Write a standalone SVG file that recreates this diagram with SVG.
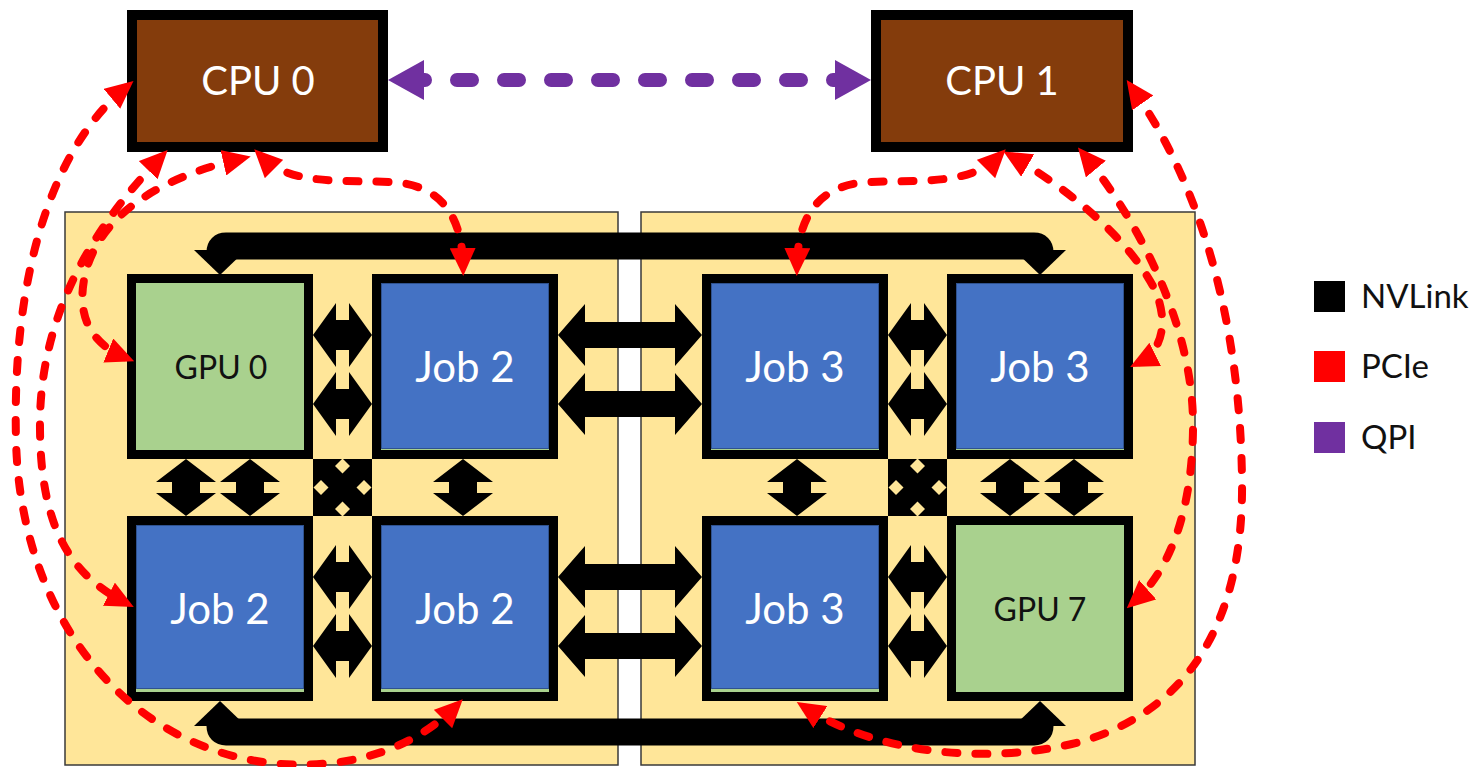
<svg xmlns="http://www.w3.org/2000/svg" width="1482" height="767" viewBox="0 0 1482 767">
<style>
.board{fill:#FFE699;stroke:#3a3a3a;stroke-width:1.5}
.frame{fill:#000}
.green{fill:#A9D18E}
.blue{fill:#4472C4;stroke:#2F528F;stroke-width:1}
.cpu{fill:#843C0C;stroke:#000;stroke-width:10}
.nv{fill:#000}
.bus{fill:none;stroke:#000;stroke-width:27}
.yel{fill:#FFE699}
.lbl{font-family:Lato,"Liberation Sans",sans-serif;text-anchor:middle}
.job{fill:#fff;font-size:42px}
.gpu{fill:#111;font-size:32px}
.cputxt{fill:#fff;font-size:40px}
.pcie{fill:none;stroke:#FF0000;stroke-width:8;stroke-dasharray:12 18;stroke-linecap:round;marker-start:url(#ra);marker-end:url(#ra)}
.qpi{fill:none;stroke:#7030A0;stroke-width:14;stroke-dasharray:15 32;stroke-linecap:round;marker-start:url(#pa);marker-end:url(#pa)}
.leg{font-family:Lato,"Liberation Sans",sans-serif;font-size:33px;fill:#111}
</style>
<defs>
<marker id="ra" markerUnits="userSpaceOnUse" viewBox="0 0 28 26" markerWidth="28" markerHeight="26" refX="17" refY="13" orient="auto-start-reverse"><path d="M0,0 L28,13 L0,26 z" fill="#FF0000"/></marker>
<marker id="pa" markerUnits="userSpaceOnUse" viewBox="0 0 36 40" markerWidth="36" markerHeight="40" refX="14" refY="20" orient="auto-start-reverse"><path d="M0,0 L36,20 L0,40 z" fill="#7030A0"/></marker>
<polygon id="sh" points="-29.5,0 -6.5,-32 -6.5,-15 6.5,-15 6.5,-32 29.5,0 6.5,32 6.5,15 -6.5,15 -6.5,32"/>
<polygon id="lh" points="-72,0 -45,-31 -45,-13 45,-13 45,-31 72,0 45,31 45,13 -45,13 -45,31"/>
<polygon id="sv" points="0,-28.5 30,-5.5 14,-5.5 14,5.5 30,5.5 0,28.5 -30,5.5 -14,5.5 -14,-5.5 -30,-5.5"/>
<polygon id="dia" points="0,-7.5 7.5,0 0,7.5 -7.5,0"/>
</defs>
<rect width="1482" height="767" fill="#fff"/>
<g id="board-left"><rect class="board" x="65" y="212" width="553" height="553"/></g>
<g id="board-right"><rect class="board" x="641" y="212" width="554" height="553"/></g>

<g id="nvlink-buses">
<path class="bus" d="M220 258 V252 Q220 246 226 246 H1034 Q1040 246 1040 252 V258"/>
<polygon class="nv" points="194,250 246,250 220,275"/>
<polygon class="nv" points="1014,250 1066,250 1040,275"/>
<path class="bus" d="M220 722 V726 Q220 732 226 732 H1034 Q1040 732 1040 726 V722"/>
<polygon class="nv" points="194,726 246,726 220,701"/>
<polygon class="nv" points="1014,726 1066,726 1040,701"/>
</g>

<g id="gpu0"><rect class="frame" x="127" y="274" width="186" height="185"/><rect class="green" x="136" y="283" width="168" height="167"/><text class="lbl gpu" x="221" y="379">GPU 0</text></g>
<g id="job2-top"><rect class="frame" x="372" y="274" width="186" height="185"/><rect class="green" x="381" y="283" width="168" height="167"/><rect class="blue" x="381.5" y="283.5" width="167" height="165"/><text class="lbl job" x="465" y="382">Job 2</text></g>
<g id="job3-top-left"><rect class="frame" x="702" y="274" width="186" height="185"/><rect class="green" x="711" y="283" width="168" height="167"/><rect class="blue" x="711.5" y="283.5" width="167" height="165"/><text class="lbl job" x="795" y="382">Job 3</text></g>
<g id="job3-top-right"><rect class="frame" x="947" y="274" width="186" height="185"/><rect class="green" x="956" y="283" width="168" height="167"/><rect class="blue" x="956.5" y="283.5" width="167" height="165"/><text class="lbl job" x="1040" y="382">Job 3</text></g>
<g id="job2-bottom-left"><rect class="frame" x="127" y="516" width="186" height="185"/><rect class="green" x="136" y="525" width="168" height="167"/><rect class="blue" x="136.5" y="525.5" width="167" height="163"/><text class="lbl job" x="220" y="624">Job 2</text></g>
<g id="job2-bottom"><rect class="frame" x="372" y="516" width="186" height="185"/><rect class="green" x="381" y="525" width="168" height="167"/><rect class="blue" x="381.5" y="525.5" width="167" height="163"/><text class="lbl job" x="465" y="624">Job 2</text></g>
<g id="job3-bottom"><rect class="frame" x="702" y="516" width="186" height="185"/><rect class="green" x="711" y="525" width="168" height="167"/><rect class="blue" x="711.5" y="525.5" width="167" height="163"/><text class="lbl job" x="795" y="624">Job 3</text></g>
<g id="gpu7"><rect class="frame" x="947" y="516" width="186" height="185"/><rect class="green" x="956" y="525" width="168" height="167"/><text class="lbl gpu" x="1040" y="621">GPU 7</text></g>

<g id="nvlink-links" class="nv">
<use href="#sh" x="342.5" y="335"/><use href="#sh" x="342.5" y="404"/>
<use href="#sh" x="342.5" y="577"/><use href="#sh" x="342.5" y="646"/>
<use href="#sh" x="917.5" y="335"/><use href="#sh" x="917.5" y="404"/>
<use href="#sh" x="917.5" y="577"/><use href="#sh" x="917.5" y="646"/>
<use href="#lh" x="630" y="335"/><use href="#lh" x="630" y="404"/>
<use href="#lh" x="630" y="577"/><use href="#lh" x="630" y="646"/>
<use href="#sv" x="186" y="487.5"/><use href="#sv" x="250" y="487.5"/>
<use href="#sv" x="463" y="487.5"/><use href="#sv" x="797" y="487.5"/>
<use href="#sv" x="1010" y="487.5"/><use href="#sv" x="1074" y="487.5"/>
<rect x="313" y="459" width="59" height="57"/>
<rect x="888" y="459" width="59" height="57"/>
<g class="yel">
<use href="#dia" x="342.5" y="466"/><use href="#dia" x="342.5" y="509"/><use href="#dia" x="321" y="487.5"/><use href="#dia" x="364" y="487.5"/>
<use href="#dia" x="917.5" y="466"/><use href="#dia" x="917.5" y="509"/><use href="#dia" x="896" y="487.5"/><use href="#dia" x="939" y="487.5"/>
</g>
</g>

<g id="cpu0"><rect class="cpu" x="132" y="15" width="251" height="132"/><text class="lbl cputxt" x="258" y="95">CPU 0</text></g>
<g id="cpu1"><rect class="cpu" x="876" y="15" width="252" height="132"/><text class="lbl cputxt" x="1002" y="95">CPU 1</text></g>

<g id="connectors">
<path class="qpi" d="M410 80 H849"/>
<path class="pcie" d="M125 88 C50 150 12 280 16 440 C20 610 120 745 270 763 C360 772 420 742 455 707"/>
<path class="pcie" d="M160 158 C100 220 38 310 40 430 C41 530 72 575 124 602"/>
<path class="pcie" d="M240 159 C170 175 100 210 85 275 C75 320 95 345 124 357"/>
<path class="pcie" d="M262 157 C290 185 340 180 390 182 C440 184 462 215 463 265"/>
<path class="pcie" d="M998 157 C970 185 920 180 870 182 C820 184 798 215 797 265"/>
<path class="pcie" d="M1013 157 C1070 190 1130 240 1155 290 C1170 325 1160 352 1140 362"/>
<path class="pcie" d="M1085 156 C1130 210 1195 320 1193 430 C1192 510 1170 570 1135 601"/>
<path class="pcie" d="M1133 89 C1190 170 1240 300 1242 480 C1244 620 1190 710 1080 742 C990 765 880 755 806 708"/>
</g>

<g id="legend">
<rect x="1314" y="281" width="31" height="31" fill="#000"/><text class="leg" x="1361" y="308">NVLink</text>
<rect x="1314" y="351" width="31" height="31" fill="#FF0000"/><text class="leg" x="1361" y="378">PCIe</text>
<rect x="1314" y="422" width="31" height="31" fill="#7030A0"/><text class="leg" x="1361" y="449">QPI</text>
</g>
</svg>
